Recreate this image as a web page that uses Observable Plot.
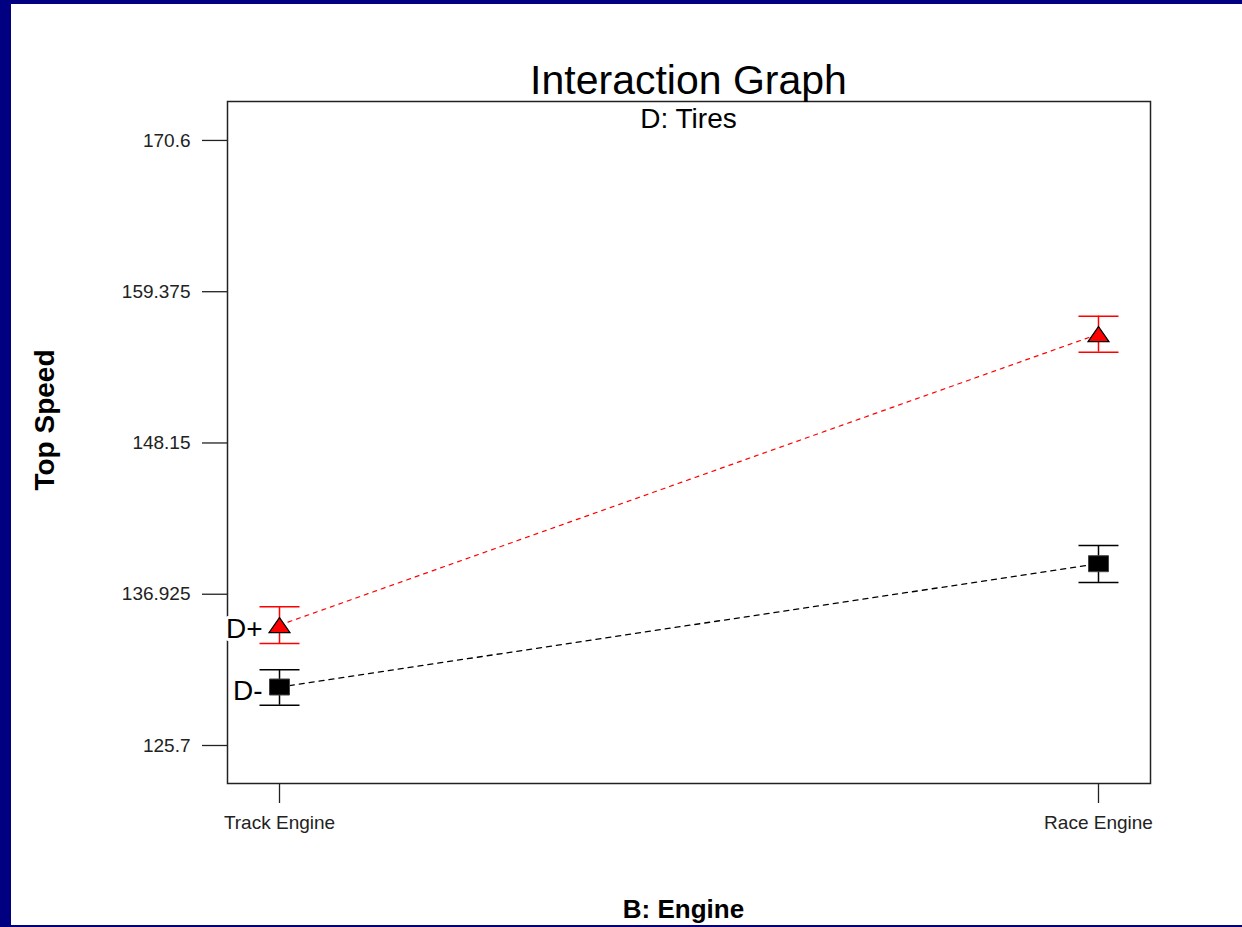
<!DOCTYPE html>
<html><head><meta charset="utf-8">
<script src="https://cdn.jsdelivr.net/npm/d3@7"></script>
<script src="https://cdn.jsdelivr.net/npm/@observablehq/plot@0.6"></script>
<style>
html,body{margin:0;padding:0;background:#000080;width:1242px;height:927px;overflow:hidden;}
#panel{position:absolute;left:11px;top:4px;width:1231px;height:921px;background:#fff;overflow:hidden;font-family:"Liberation Sans",Arial,sans-serif;}
#chart{position:absolute;left:0;top:0;}
.t{position:absolute;left:216px;width:923px;text-align:center;color:#000;white-space:nowrap;line-height:1;}
#title{top:56px;font-size:41px;}
#sub{top:101px;font-size:28px;}
#xlab{top:892px;font-size:26px;font-weight:bold;left:211px;}
#ylab{position:absolute;left:34px;top:416px;font-size:28px;font-weight:bold;line-height:1;white-space:nowrap;transform:translate(-50%,-50%) rotate(-90deg);color:#000;}
</style>
</head><body>
<div id="panel">
  <div id="chart"></div>
  <div class="t" id="title">Interaction Graph</div>
  <div class="t" id="sub">D: Tires</div>
  <div class="t" id="xlab">B: Engine</div>
  <div id="ylab">Top Speed</div>
</div>
<script>
const engines = ["Track Engine", "Race Engine"];
const levels = ["D+", "D-"];
const meanPlus = [134.63, 156.23];
const lowPlus = [133.26, 154.89];
const highPlus = [136.0, 157.56];
const meanMinus = [130.04, 139.19];
const lowMinus = [128.69, 137.8];
const highMinus = [131.33, 140.54];
const yTicks = [125.7, 136.925, 148.15, 159.375, 170.6];
const yTickLabels = ["125.7", "136.925", "148.15", "159.375", "170.6"];

const plus = engines.map((e, i) => ({x: i, engine: e, level: levels[0], mean: meanPlus[i], lo: lowPlus[i], hi: highPlus[i]}));
const minus = engines.map((e, i) => ({x: i, engine: e, level: levels[1], mean: meanMinus[i], lo: lowMinus[i], hi: highMinus[i]}));
const labelRows = [plus[0], minus[0]];
const yLabelMap = new Map(yTicks.map((v, i) => [v, yTickLabels[i]]));

const capSym = {draw(ctx) { ctx.moveTo(-20, 0); ctx.lineTo(20, 0); }};
const triSym = {draw(ctx) { ctx.moveTo(0, -7.5); ctx.lineTo(10.5, 7.5); ctx.lineTo(-10.5, 7.5); ctx.closePath(); }};
const sqSym = {draw(ctx) { ctx.moveTo(-10, -8); ctx.lineTo(10, -8); ctx.lineTo(10, 8); ctx.lineTo(-10, 8); ctx.closePath(); }};

const red = "#ff0000", blk = "#000000";
const chart = Plot.plot({
  width: 1231, height: 921,
  marginTop: 97, marginLeft: 216, marginRight: 92, marginBottom: 142,
  style: {fontFamily: "'Liberation Sans', Arial, sans-serif", background: "white", color: "#222"},
  x: {domain: [-0.0635, 1.0635]},
  y: {domain: [122.88, 173.49]},
  marks: [
    Plot.frame({stroke: "#222", strokeWidth: 1.5}),
    Plot.axisY({ticks: yTicks, tickFormat: d => yLabelMap.get(d), tickSize: 25, tickPadding: 12, fontSize: 19, label: null, strokeWidth: 1.3}),
    Plot.axisX({ticks: [0, 1], tickFormat: d => engines[d], tickSize: 20, tickPadding: 12, fontSize: 19, label: null, strokeWidth: 1.3}),
    Plot.line(minus, {x: "x", y: "mean", stroke: blk, strokeWidth: 1.3, strokeDasharray: "5,5"}),
    Plot.line(plus, {x: "x", y: "mean", stroke: red, strokeWidth: 1.2, strokeDasharray: "4,5"}),
    Plot.ruleX(plus, {x: "x", y1: "lo", y2: "hi", stroke: red, strokeWidth: 1.5}),
    Plot.dot(plus, {x: "x", y: "lo", symbol: capSym, stroke: red, fill: "none", strokeWidth: 1.5}),
    Plot.dot(plus, {x: "x", y: "hi", symbol: capSym, stroke: red, fill: "none", strokeWidth: 1.5}),
    Plot.ruleX(minus, {x: "x", y1: "lo", y2: "hi", stroke: blk, strokeWidth: 1.5}),
    Plot.dot(minus, {x: "x", y: "lo", symbol: capSym, stroke: blk, fill: "none", strokeWidth: 1.5}),
    Plot.dot(minus, {x: "x", y: "hi", symbol: capSym, stroke: blk, fill: "none", strokeWidth: 1.5}),
    Plot.dot(plus, {x: "x", y: "mean", symbol: triSym, fill: red, stroke: blk, strokeWidth: 1.2}),
    Plot.dot(minus, {x: "x", y: "mean", symbol: sqSym, fill: blk, stroke: "#444", strokeWidth: 1}),
    Plot.text(labelRows, {x: "x", y: "mean", text: "level", textAnchor: "end", dx: -17, dy: 4, fontSize: 28, fill: blk, stroke: "white", strokeWidth: 6, paintOrder: "stroke"})
  ]
});
document.getElementById("chart").appendChild(chart);
</script>
</body></html>
